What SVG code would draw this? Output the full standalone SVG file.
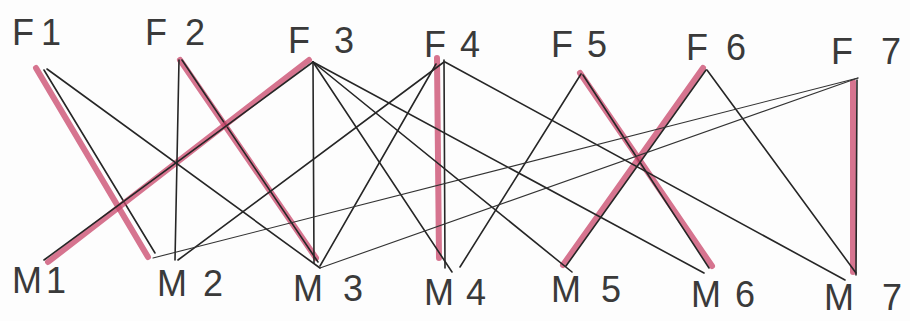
<svg xmlns="http://www.w3.org/2000/svg" width="910" height="321" viewBox="0 0 910 321">
<style>
.lbl{font-family:"Liberation Sans","DejaVu Sans",sans-serif;font-size:36px;fill:#3a3a3a;font-weight:300}
.hl{stroke:#c8456a;stroke-width:6;stroke-linecap:round;opacity:0.75;fill:none}
.ln{stroke:#262626;stroke-width:1.6;stroke-linecap:round;fill:none}
.thin{stroke:#333;stroke-width:1.1;stroke-linecap:round;fill:none}
</style>
<rect width="910" height="321" fill="#fdfdfd"/>
<g id="connectors">
<g id="matched">
<line class="hl" x1="36" y1="68" x2="148" y2="257"/>
<line class="ln" x1="44" y1="70" x2="155" y2="253"/>
<line class="hl" x1="180" y1="60" x2="316" y2="258"/>
<line class="ln" x1="182" y1="60" x2="318" y2="262"/>
<line class="hl" x1="309" y1="60" x2="48" y2="262"/>
<line class="ln" x1="313" y1="62" x2="44" y2="260"/>
<line class="hl" x1="437" y1="58" x2="439" y2="258"/>
<line class="ln" x1="444" y1="60" x2="445" y2="268"/>
<line class="hl" x1="580" y1="73" x2="712" y2="266"/>
<line class="ln" x1="583" y1="75" x2="709" y2="268"/>
<line class="hl" x1="703" y1="68" x2="563" y2="265"/>
<line class="ln" x1="706" y1="70" x2="566" y2="266"/>
<line class="hl" x1="853" y1="82" x2="853" y2="272"/>
<line class="ln" x1="857" y1="80" x2="856" y2="275"/>
</g>
<g id="edges">
<line class="ln" x1="47" y1="69" x2="320" y2="268"/>
<line class="ln" x1="179" y1="60" x2="175" y2="260"/>
<line class="ln" x1="313" y1="62" x2="314" y2="263"/>
<line class="ln" x1="313" y1="62" x2="452" y2="272"/>
<line class="ln" x1="313" y1="62" x2="572" y2="272"/>
<line class="ln" x1="313" y1="62" x2="704" y2="273"/>
<line class="ln" x1="444" y1="62" x2="178" y2="260"/>
<line class="ln" x1="436" y1="64" x2="320" y2="266"/>
<line class="ln" x1="445" y1="62" x2="845" y2="280"/>
<line class="ln" x1="581" y1="74" x2="460" y2="267"/>
<line class="ln" x1="707" y1="70" x2="856" y2="273"/>
<line class="thin" x1="858" y1="78" x2="153" y2="258"/>
<line class="thin" x1="858" y1="78" x2="320" y2="268"/>
</g>
</g>
<g id="F1"><text class="lbl" x="12" y="45" textLength="49" lengthAdjust="spacing">F1</text></g>
<g id="F2"><text class="lbl" x="145" y="45" textLength="60" lengthAdjust="spacing">F2</text></g>
<g id="F3"><text class="lbl" x="288" y="53" textLength="66" lengthAdjust="spacing">F3</text></g>
<g id="F4"><text class="lbl" x="424" y="57" textLength="56" lengthAdjust="spacing">F4</text></g>
<g id="F5"><text class="lbl" x="551" y="57" textLength="56" lengthAdjust="spacing">F5</text></g>
<g id="F6"><text class="lbl" x="686" y="60" textLength="60" lengthAdjust="spacing">F6</text></g>
<g id="F7"><text class="lbl" x="831" y="64" textLength="70" lengthAdjust="spacing">F7</text></g>
<g id="M1"><text class="lbl" x="12" y="293" textLength="54" lengthAdjust="spacing">M1</text></g>
<g id="M2"><text class="lbl" x="157" y="296" textLength="66" lengthAdjust="spacing">M2</text></g>
<g id="M3"><text class="lbl" x="293" y="301" textLength="70" lengthAdjust="spacing">M3</text></g>
<g id="M4"><text class="lbl" x="424" y="305" textLength="62" lengthAdjust="spacing">M4</text></g>
<g id="M5"><text class="lbl" x="551" y="302" textLength="70" lengthAdjust="spacing">M5</text></g>
<g id="M6"><text class="lbl" x="691" y="307" textLength="64" lengthAdjust="spacing">M6</text></g>
<g id="M7"><text class="lbl" x="824" y="310" textLength="78" lengthAdjust="spacing">M7</text></g>
</svg>
